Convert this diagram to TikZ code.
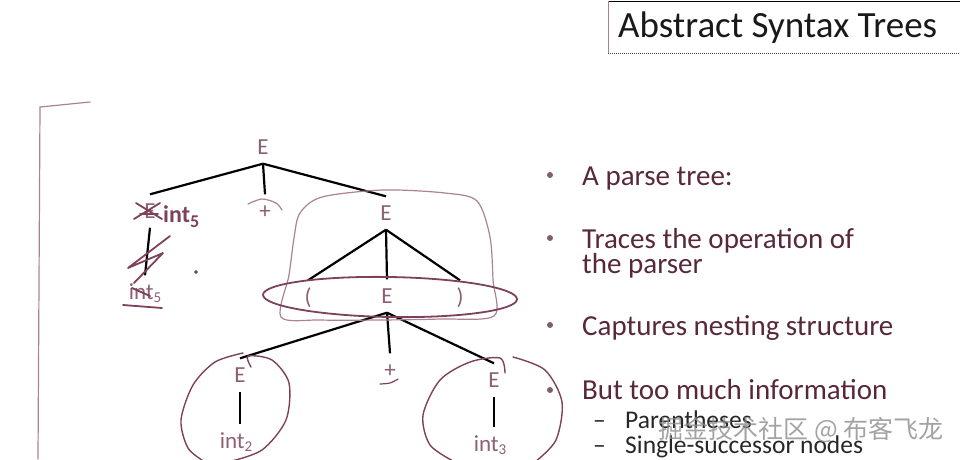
\documentclass[tikz,border=0pt]{standalone}
\usepackage{fontspec}
\setmainfont{Carlito}
\newfontfamily\cjkfont{Noto Sans CJK SC}
\usetikzlibrary{positioning}
\definecolor{treetext}{RGB}{140,95,115}
\definecolor{bullettext}{RGB}{88,40,58}
\definecolor{ink}{RGB}{125,65,90}
\definecolor{inklight}{RGB}{170,130,145}
\newcommand{\sub}[1]{\raisebox{-0.3ex}{\fontsize{15}{15}\selectfont #1}}
\begin{document}
\begin{tikzpicture}[
            x=1pt,
            y=-1pt,
            lbl/.style={text=treetext, font=\fontsize{23}{23}\selectfont, text height=15pt, text depth=0pt, inner xsep=2pt, inner ysep=9pt},
            edge/.style={draw=black, line width=2.2pt},
            ink/.style={draw=ink, line width=1.8pt, line cap=round, line join=round},
            thinink/.style={draw=inklight, line width=1.2pt, line cap=round},
            bul/.style={circle, fill=bullettext!75, inner sep=0pt, minimum size=6pt},
            btext/.style={anchor=base west, text=bullettext, font=\fontsize{29}{29}\selectfont, inner sep=0pt},
            stext/.style={anchor=base west, text=black!85, font=\fontsize{25.5}{25.5}\selectfont, inner sep=0pt}
        ]
        \useasboundingbox (0,0) rectangle (960,459);
        % title box
        \draw[black, line width=0.8pt] (608,1) -- (960,1);
        \draw[black!70, line width=1pt, densely dotted] (608,53) -- (960,53);
        \draw[inklight, line width=0.8pt] (608,1) -- (608,53);
        \node[anchor=west, font=\fontsize{37}{37}\selectfont, text=black!90, inner sep=0pt] (title) at (618,28) {Abstract Syntax Trees};
        % parse tree
        \node[lbl] (e0) at (263,147) {E};
        \node[lbl] (e1) at (150,211) {E};
        \node[lbl] (pl1) at (265,211) {+};
        \node[lbl] (e2) at (386,213) {E};
        \node[lbl] (lp) at (308,297) {(};
        \node[lbl] (e3) at (387,296) {E};
        \node[lbl] (rp) at (460,297) {)};
        \node[lbl] (e4) at (240,375) {E};
        \node[lbl] (pl2) at (390,370) {+};
        \node[lbl] (e5) at (494,380) {E};
        \node[lbl] (i5) at (145,292) {int\sub{5}};
        \node[lbl] (i2) at (236,441) {int\sub{2}};
        \node[lbl] (i3) at (490,444) {int\sub{3}};
        \foreach \c in {e1,pl1,e2} { \draw[edge] (e0.south) -- (\c.north); }
        \foreach \c in {lp,e3,rp} { \draw[edge] (e2.south) -- (\c.north); }
        \foreach \c in {e4,pl2,e5} { \draw[edge] (e3.south) -- (\c.north); }
        \draw[edge] (e1.south) -- (i5.north);
        \draw[edge] (e4.south) -- (e4.south |- i2.north);
        \draw[edge] (e5.south) -- (e5.south |- i3.north);
        % hand annotations
        \draw[thinink] (90,102) -- (40,107) -- (38,459);
        \draw[thinink] plot[smooth cycle] coordinates {(300,213) (322,197) (383,190) (445,193) (477,201) (490,237) (493,280) (494,316) (440,319) (380,320) (320,320) (281,317) (289,275) (294,238)};
        \draw[ink, rotate around={-1:(390,297)}] (390,297) ellipse [x radius=127, y radius=20];
        \draw[ink, line width=1.4pt] plot[smooth] coordinates {(251,367) (248,356) (272,360) (289,383) (286,420) (262,450) (228,462)};
        \draw[ink, line width=1.4pt] plot[smooth] coordinates {(243,353) (215,362) (193,385) (181,420) (188,448) (205,462)};
        \draw[ink, line width=1.4pt] plot[smooth] coordinates {(505,373) (500,358) (470,362) (440,380) (423,415) (430,445) (455,462)};
        \draw[ink, line width=1.4pt] plot[smooth] coordinates {(513,357) (545,370) (562,402) (556,440) (535,462)};
        \draw[thinink] plot[smooth] coordinates {(248,204) (262,199) (276,203) (282,210)};
        \draw[ink, line width=1.2pt] plot[smooth] coordinates {(380,384) (390,383) (398,379)};
        \draw[ink] (136,203) -- (162,219);
        \draw[ink] (134,219) -- (160,203);
        \draw[ink] (140,214) -- (158,214);
        \node[anchor=base west, text=ink, font=\fontsize{24}{24}\selectfont\bfseries, inner sep=0pt] (hint) at (163,222) {int\raisebox{-0.5ex}{\fontsize{18}{18}\selectfont 5}};
        \draw[ink] plot coordinates {(170,236) (128,268) (163,253) (134,283)};
        \draw[ink] (132,288) -- (150,296);
        \draw[ink] (123,305) -- (162,308);
        \fill[ink] (196,272) circle (1pt);
        % bullets
        \node[bul] (b1) at (550,175) {};
        \node[bul] (b2) at (550,238) {};
        \node[bul] (b3) at (550,325) {};
        \node[bul] (b4) at (550,390) {};
        \node[btext] (t1) at (582,185) {A parse tree:};
        \node[btext] (t2) at (582,248) {Traces the operation of};
        \node[btext] (t2b) at (582,273) {the parser};
        \node[btext] (t3) at (582,335) {Captures nesting structure};
        \node[btext] (t4) at (582,399) {But too much information};
        \node[stext] (d1) at (593,428) {–};
        \node[stext] (s1) at (625,428) {Parentheses};
        \node[stext] (d2) at (593,453) {–};
        \node[stext] (s2) at (625,453) {Single-successor nodes};
        % watermark
        \node[text=black!45, opacity=0.8, font=\cjkfont\fontsize{25}{25}\selectfont, inner sep=0pt] (wm) at (801,430) {掘金技术社区 @ 布客飞龙};
\end{tikzpicture}
\end{document}
